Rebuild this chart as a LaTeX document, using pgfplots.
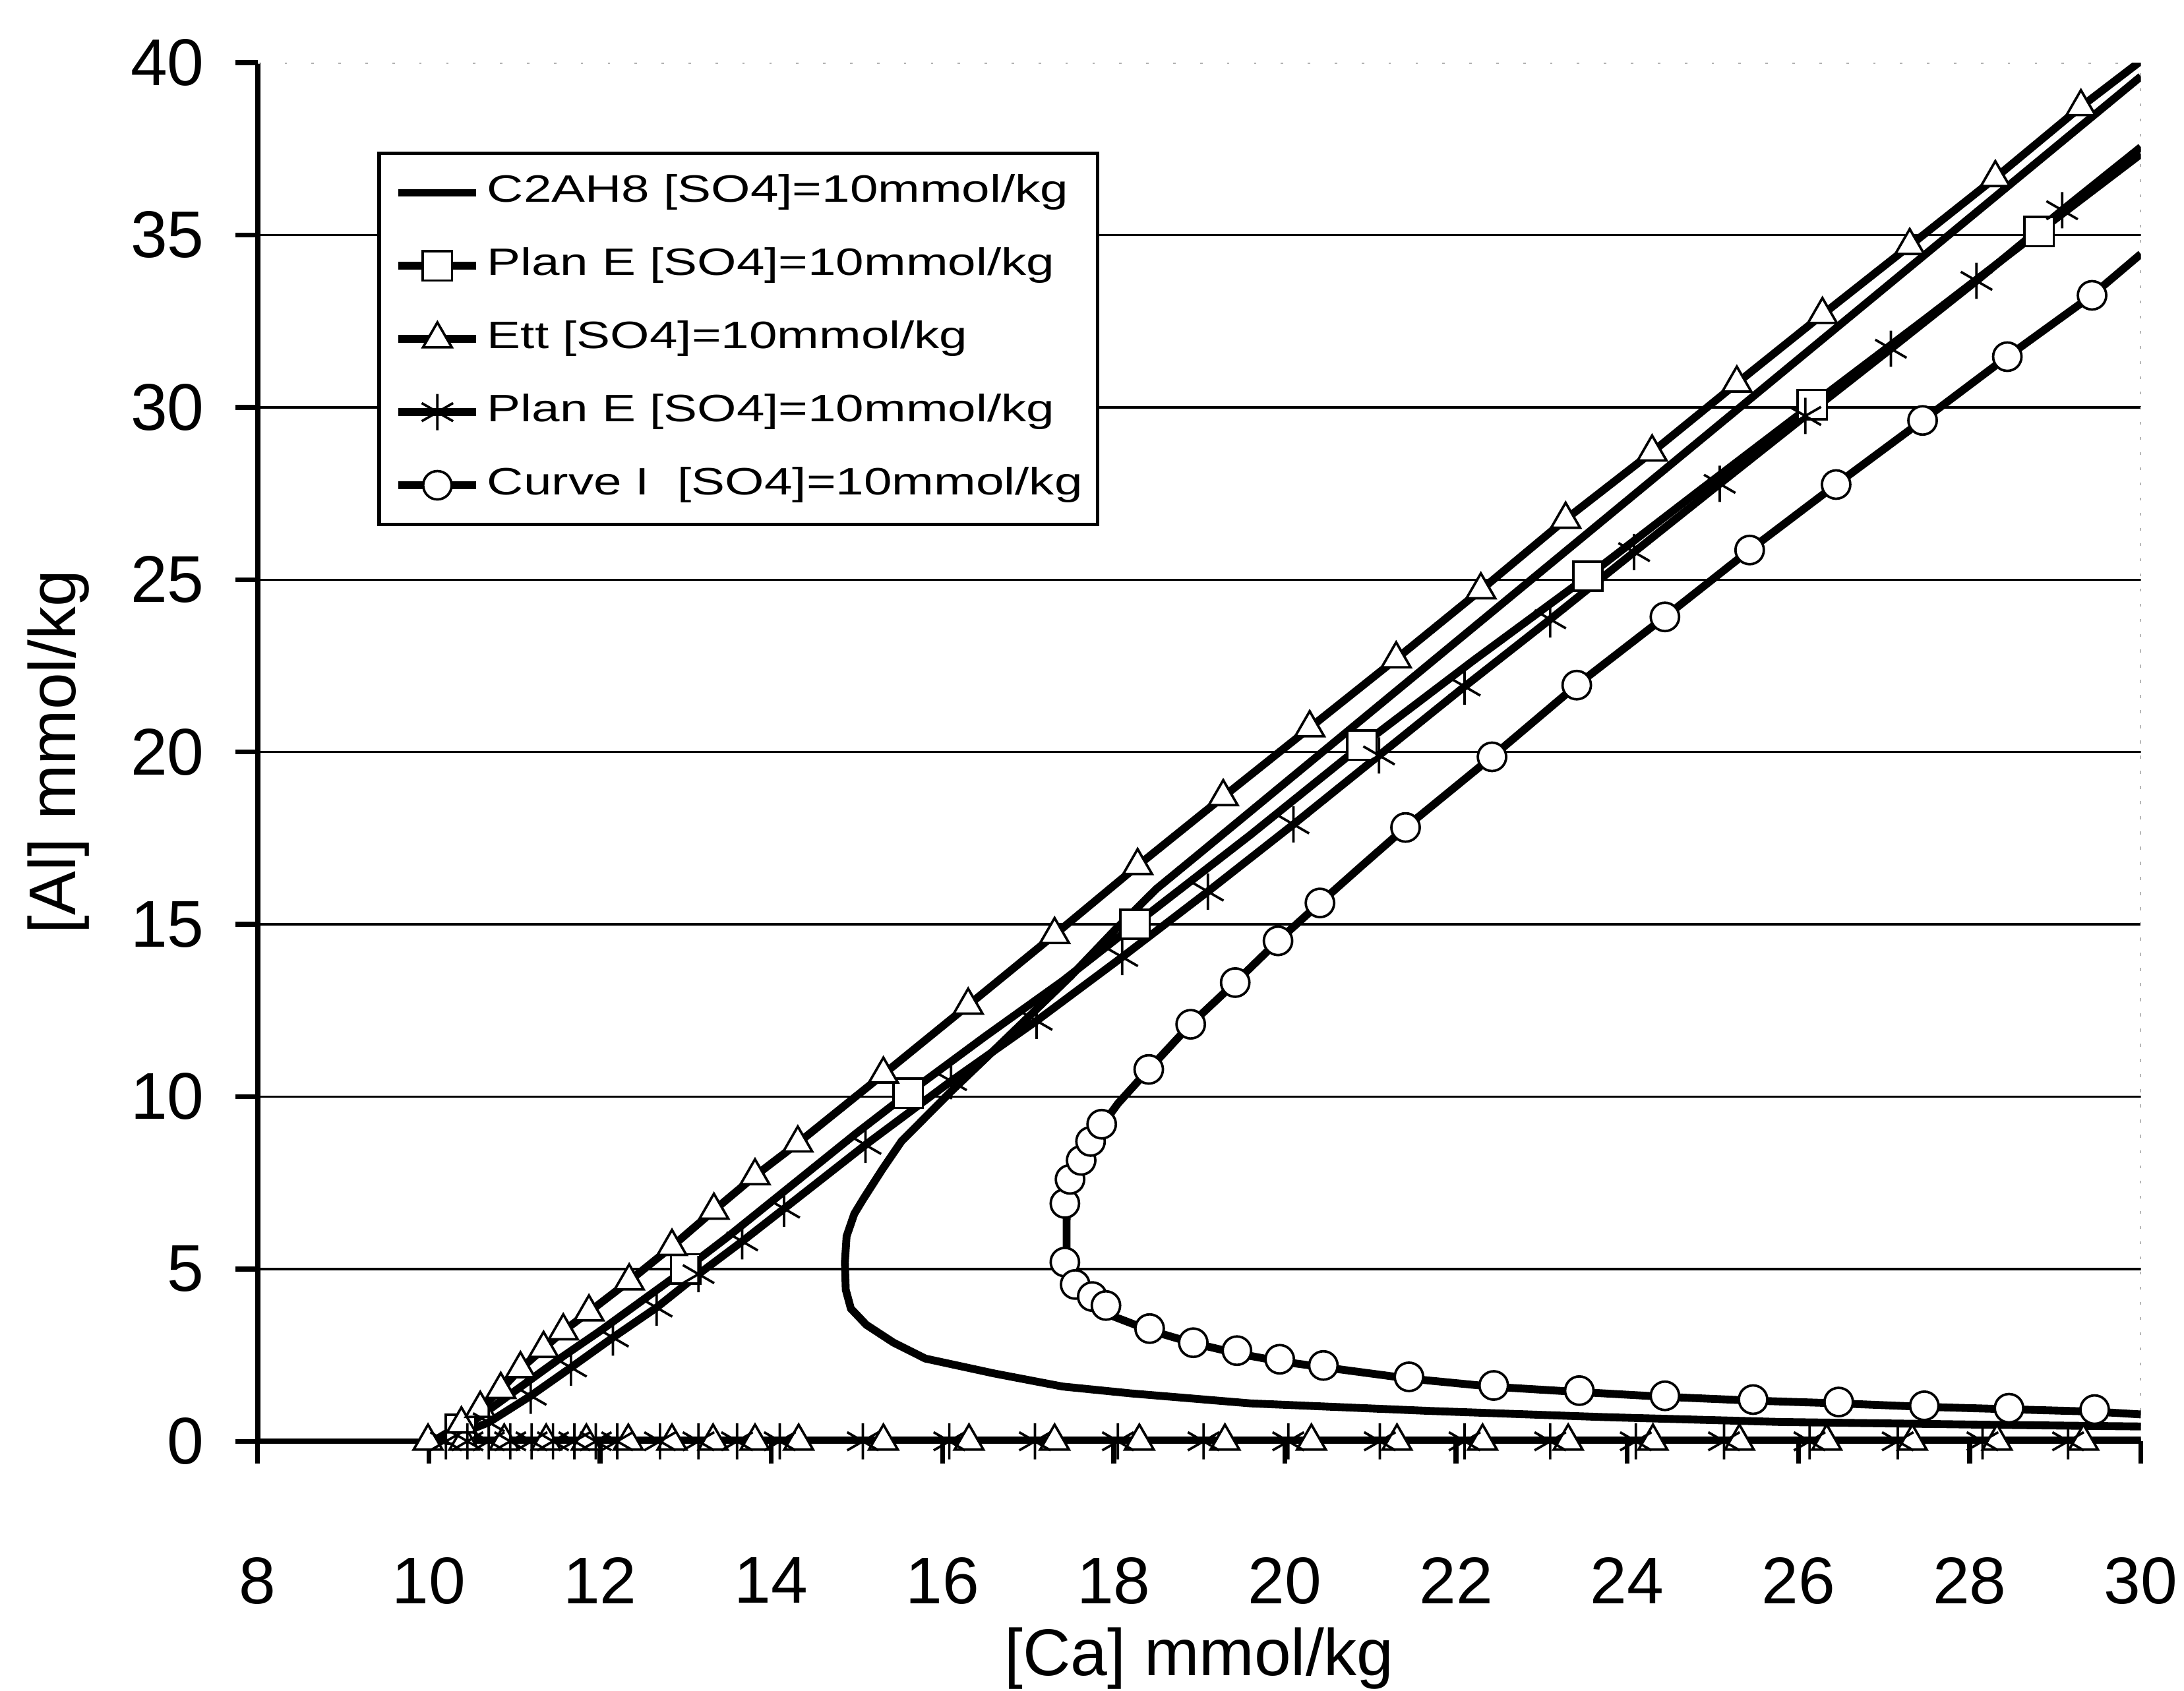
\documentclass[border=0pt]{standalone}
\usepackage{pgfplots}
\pgfplotsset{compat=1.18}
\usepackage{fontspec}
\setmainfont{Liberation Sans}
\newfontfamily\legfont[FakeStretch=1.32]{Liberation Sans}

\pgfplotsset{
 dl/.style={black, line width=1.6pt, no markers, forget plot},
 msq/.style={forget plot, only marks, mark=square*, mark size=3pt, mark options={fill=white, draw=black, line width=0.5pt}},
 mtr/.style={forget plot, only marks, mark=triangle*, mark size=3.4pt, mark options={fill=white, draw=black, line width=0.5pt}},
 mst/.style={forget plot, only marks, mark=asterisk, mark size=3.7pt, mark options={draw=black, line width=0.5pt}},
 mci/.style={forget plot, only marks, mark=*, mark size=2.9pt, mark options={fill=white, draw=black, line width=0.5pt}},
}

\begin{document}
\begin{tikzpicture}
\path[use as bounding box] (-1.85,-1.79) rectangle (13.83,10.35);
\begin{axis}[
 at={(0,0)}, anchor=south west,
 scale only axis, width=13.52cm, height=9.90cm,
 xmin=8, xmax=30, ymin=0, ymax=40,
 xtick={8,10,...,30}, ytick={0,5,...,40},
 axis lines*=left,
 axis line style={black, line width=1.1pt},
 tick align=outside, major tick length=0.16cm,
 tick style={black, line width=1pt},
 /pgf/number format/assume math mode=true,
 tick label style={font=\fontsize{13.5}{16}\selectfont},
 xticklabel style={yshift=-0.55cm},
 yticklabel style={xshift=-0.1cm},
 xlabel={[Ca] mmol/kg}, ylabel={[Al] mmol/kg},
 label style={font=\fontsize{13.5}{16}\selectfont},
 xlabel style={at={(rel axis cs:0.5,-0.1576)}, anchor=center},
 ylabel style={at={(rel axis cs:-0.1058,0.5)}, anchor=center},
 legend image code/.code={\draw[mark repeat=2,mark phase=2,#1] plot coordinates {(0cm,0cm) (0.28cm,0cm) (0.56cm,0cm)};},
 legend cell align=left,
 legend style={at={(0.0636,0.9354)}, anchor=north west, draw=black, line width=0.7pt, fill=white,
   inner xsep=0.11cm, inner ysep=0.02cm, font=\legfont\fontsize{7.8}{9}\selectfont, row sep=0pt,
   nodes={inner ysep=0.13cm, inner xsep=0pt, text height=0.2cm, text depth=0.065cm},
   /tikz/every odd column/.append style={column sep=0.05cm}},
]
\addlegendimage{black, line width=1.6pt, no markers}
\addlegendentry{C2AH8 [SO4]=10mmol/kg}
\addlegendimage{black, line width=1.6pt, mark=square*, mark size=3pt, mark options={fill=white, draw=black, line width=0.5pt}}
\addlegendentry{Plan E [SO4]=10mmol/kg}
\addlegendimage{black, line width=1.6pt, mark=triangle*, mark size=3.4pt, mark options={fill=white, draw=black, line width=0.5pt}}
\addlegendentry{Ett [SO4]=10mmol/kg}
\addlegendimage{black, line width=1.6pt, mark=asterisk, mark size=3.7pt, mark options={draw=black, line width=0.5pt}}
\addlegendentry{Plan E [SO4]=10mmol/kg}
\addlegendimage{black, line width=1.6pt, mark=*, mark size=2.9pt, mark options={fill=white, draw=black, line width=0.5pt}}
\addlegendentry{Curve I\ \ [SO4]=10mmol/kg}

% grid and frame remnants
\pgfplotsinvokeforeach{5,10,15,20,25,30,35}{\draw[black, line width=0.45pt] (axis cs:8,#1) -- (axis cs:30,#1);}
\draw[gray!70, line width=0.4pt, dash pattern=on 0.6pt off 2.5pt] (axis cs:30,0) -- (axis cs:30,40);
\draw[gray!60, line width=0.4pt, dash pattern=on 0.5pt off 5pt] (axis cs:8,40) -- (axis cs:30,40);

% C2AH8
\addplot[dl] coordinates {(30,0.43) (28.2,0.48) (25.8,0.56) (23.75,0.70) (21.7,0.88) (19.6,1.10) (18.2,1.39) (17.4,1.59) (16.6,1.97) (15.8,2.40) (15.43,2.86) (15.11,3.38) (14.93,3.85) (14.87,4.4) (14.86,5.2) (14.88,5.95) (14.97,6.6) (15.08,7.05) (15.3,7.9) (15.52,8.7) (15.8,9.4) (16.1,10.15) (16.5,11.1) (17.0,12.3) (17.5,13.5) (18.0,14.8) (18.5,16.03) (19,17.05) (20,19.1) (21,21.15) (22,23.2) (23,25.25) (24,27.3) (25,29.35) (26,31.4) (27,33.45) (28,35.5) (29,37.55) (30,39.6)};

% Plan E (squares)
\addplot[dl] coordinates {(10.15,0) (10.5,0.55) (11,1.45) (11.5,2.35) (12,3.2) (12.5,4.1) (13,5.0) (13.5,5.95) (14,6.95) (14.5,7.95) (15,8.95) (15.6,10.1) (16.5,11.75) (17.4,13.35) (18.25,15.0) (19.6,17.6) (20.9,20.2) (22.2,22.65) (23.54,25.1) (24.85,27.6) (26.16,30.08) (27.5,32.6) (28.81,35.1) (30,37.35)};
\addplot[msq] coordinates {(10.37,0.35) (13.0,5.0) (15.6,10.1) (18.25,15.0) (20.9,20.2) (23.54,25.1) (26.16,30.08) (28.81,35.1)};

% Ett (triangles)
\addplot[dl] coordinates {(10.0,0.02) (30,0.02)};
\addplot[dl] coordinates {(10.05,0) (10.38,0.5) (10.6,0.95) (10.84,1.5) (11.07,2.1) (11.34,2.69) (11.57,3.2) (11.87,3.75) (12.34,4.65) (12.84,5.65) (13.33,6.7) (13.81,7.7) (14.31,8.65) (15.31,10.65) (16.3,12.65) (17.31,14.7) (18.28,16.7) (19.28,18.7) (20.29,20.7) (21.3,22.7) (22.29,24.7) (23.28,26.75) (24.29,28.7) (25.28,30.7) (26.28,32.69) (27.3,34.69) (28.3,36.66) (29.3,38.72) (30,40.05)};
\addplot[mtr] coordinates {(9.99,0) (10.41,0) (10.88,0) (11.37,0) (11.84,0) (12.33,0) (12.84,0) (13.32,0) (13.81,0) (14.32,0) (15.31,0) (16.31,0) (17.31,0) (18.3,0) (19.3,0) (20.31,0) (21.31,0) (22.31,0) (23.31,0) (24.3,0) (25.31,0) (26.33,0) (27.33,0) (28.32,0) (29.33,0)};
\addplot[mtr] coordinates {(10.38,0.5) (10.6,0.95) (10.84,1.5) (11.07,2.1) (11.34,2.69) (11.57,3.2) (11.87,3.75) (12.34,4.65) (12.84,5.65) (13.33,6.7) (13.81,7.7) (14.31,8.65) (15.31,10.65) (16.3,12.65) (17.31,14.7) (18.28,16.7) (19.28,18.7) (20.29,20.7) (21.3,22.7) (22.29,24.7) (23.28,26.75) (24.29,28.7) (25.28,30.7) (26.28,32.69) (27.3,34.69) (28.3,36.66) (29.3,38.72)};

% Plan E (stars)
\addplot[dl] coordinates {(10.15,0) (10.7,0.55) (11.19,1.32) (11.66,2.14) (12.15,3.01) (12.66,3.88) (13.15,4.85) (13.66,5.8) (14.15,6.75) (15.1,8.6) (16.1,10.45) (17.1,12.2) (18.1,14.05) (19.1,15.95) (20.1,17.9) (21.1,19.9) (22.1,21.9) (23.1,23.85) (24.08,25.8) (25.08,27.78) (26.08,29.75) (27.08,31.7) (28.08,33.67) (29.08,35.72) (30,37.55)};
\addplot[mst] coordinates {(10.7,0.55) (11.19,1.32) (11.66,2.14) (12.15,3.01) (12.66,3.88) (13.15,4.85) (13.66,5.8) (14.15,6.75) (15.1,8.6) (16.1,10.45) (17.1,12.2) (18.1,14.05) (19.1,15.95) (20.1,17.9) (21.1,19.9) (22.1,21.9) (23.1,23.85) (24.08,25.8) (25.08,27.78) (26.08,29.75) (27.08,31.7) (28.08,33.67) (29.08,35.72)};
\addplot[mst] coordinates {(10.2,0) (10.45,0) (10.7,0) (10.95,0) (11.2,0) (11.45,0) (11.7,0) (11.95,0) (12.2,0) (12.7,0) (13.15,0) (13.6,0) (14.1,0) (15.07,0) (16.08,0) (17.08,0) (18.05,0) (19.05,0) (20.04,0) (21.11,0) (22.1,0) (23.1,0) (24.1,0) (25.13,0) (26.13,0) (27.16,0) (28.15,0) (29.15,0)};

% Curve I (circles)
\addplot[dl] coordinates {(30,0.78) (29.46,0.86) (28.46,0.93) (27.47,1.0) (26.47,1.1) (25.47,1.18) (24.44,1.29) (23.44,1.43) (22.44,1.58) (21.45,1.82) (20.45,2.15) (19.94,2.32) (19.44,2.55) (18.93,2.85) (18.42,3.22) (18.0,3.62) (17.75,4.05) (17.58,4.5) (17.48,5.0) (17.45,5.6) (17.45,6.4) (17.47,7.1) (17.55,7.75) (17.66,8.35) (17.8,8.95) (18.05,9.8) (18.41,10.79) (18.9,12.1) (19.42,13.31) (19.92,14.52) (20.41,15.62) (20.9,16.7) (21.41,17.81) (22.42,19.86) (23.41,21.94) (24.44,23.92) (25.43,25.86) (26.44,27.76) (27.45,29.62) (28.44,31.47) (29.43,33.25) (30,34.45)};
\addplot[mci] coordinates {(17.43,5.2) (17.55,4.55) (17.75,4.2) (17.91,3.94) (18.42,3.27) (18.93,2.86) (19.44,2.63) (19.94,2.38) (20.45,2.2) (21.45,1.87) (22.44,1.62) (23.44,1.47) (24.44,1.32) (25.47,1.21) (26.47,1.14) (27.47,1.03) (28.46,0.96) (29.46,0.92) (17.43,6.9) (17.49,7.6) (17.62,8.15) (17.73,8.7) (17.86,9.2) (18.41,10.79) (18.9,12.1) (19.42,13.31) (19.92,14.52) (20.41,15.62) (21.41,17.81) (22.42,19.86) (23.41,21.94) (24.44,23.92) (25.43,25.86) (26.44,27.76) (27.45,29.62) (28.44,31.47) (29.43,33.25)};
\end{axis}
\end{tikzpicture}
\end{document}
